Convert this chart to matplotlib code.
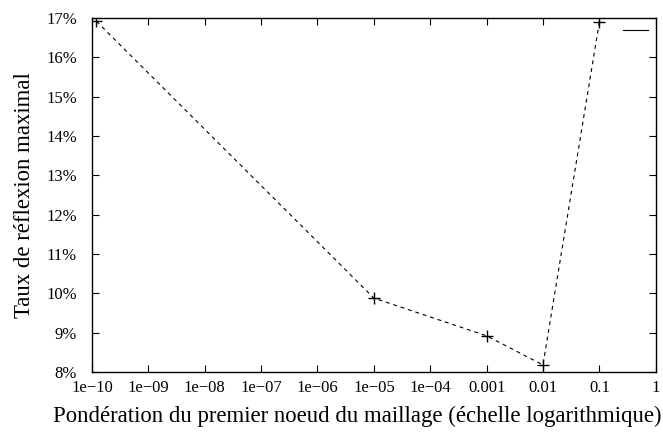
import matplotlib
matplotlib.use("Agg")
import matplotlib.pyplot as plt
from matplotlib.lines import Line2D
from matplotlib.ticker import FixedLocator

plt.rcParams['font.family'] = ['Liberation Serif', 'DejaVu Serif']

weights = [1.2e-10, 1e-5, 1e-3, 1e-2, 1e-1]
reflexion = [16.92, 9.88, 8.92, 8.18, 16.9]

x_ticks = [1e-10, 1e-9, 1e-8, 1e-7, 1e-6, 1e-5, 1e-4, 1e-3, 1e-2, 1e-1, 1]
x_tick_labels = ['1e\u221210', '1e\u221209', '1e\u221208', '1e\u221207', '1e\u221206',
                 '1e\u221205', '1e\u221204', '0.001', '0.01', '0.1', '1']
y_ticks = [8, 9, 10, 11, 12, 13, 14, 15, 16, 17]
y_tick_labels = ['8%', '9%', '10%', '11%', '12%', '13%', '14%', '15%', '16%', '17%']

fig = plt.figure(figsize=(6.63, 4.33), dpi=100)
ax = fig.add_axes([0.1388, 0.1409, 0.989 - 0.1388, 0.958 - 0.1409])

ax.plot(weights, reflexion, color='black', linestyle=(0, (3.5, 3.5)), linewidth=0.8,
        marker='+', markersize=8, markeredgewidth=1.0)

ax.set_xscale('log')
ax.set_xlim(1e-10, 1)
ax.set_ylim(8, 17)
ax.set_xticks(x_ticks)
ax.set_xticklabels(x_tick_labels)
ax.xaxis.set_minor_locator(FixedLocator([]))
ax.set_yticks(y_ticks)
ax.set_yticklabels(y_tick_labels)

ax.tick_params(axis='both', which='major', direction='in', length=5, width=0.8,
               top=True, right=True, labelsize=12)
ax.tick_params(axis='x', pad=6)
ax.tick_params(axis='y', pad=11)
for s in ax.spines.values():
    s.set_linewidth(1.0)

ax.set_xlabel('Pondération du premier noeud du maillage (échelle logarithmique)', fontsize=16.4, labelpad=7)
ax.xaxis.label.set_x(0.4707)
ax.set_ylabel('Taux de réflexion maximal', fontsize=16.4, labelpad=8)

handle = Line2D([], [], color='black', linewidth=0.8)
ax.legend([handle], [''], loc='upper right', bbox_to_anchor=(0.986, 0.9802),
          frameon=False, handlelength=1.8, handletextpad=0.0, borderaxespad=0.0,
          borderpad=0.0, fontsize=10)

fig.savefig('out.png', dpi=100)
